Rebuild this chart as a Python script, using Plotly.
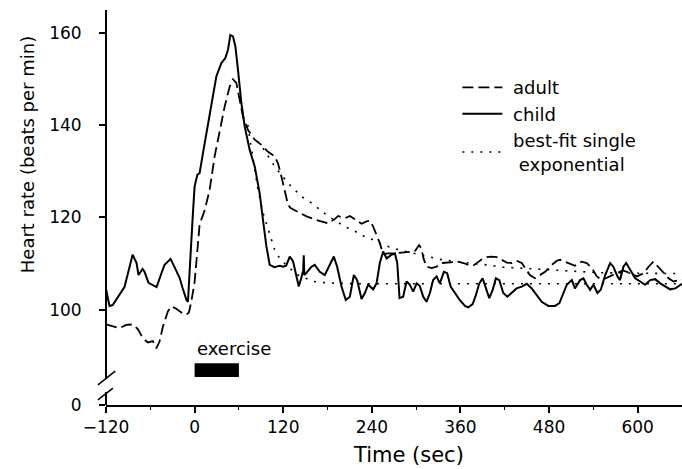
import plotly.graph_objects as go

# ---------------- data ----------------
time_adult = [-120, -108.5, -101.7, -92.6, -83.7, -76.9, -70.1, -63.3, -56.5, -51.9, -47.5, -43, -36.2,
              -31.6, -24.8, -18, -11.3, -7.7, -4.5, 0, 3, 6.8, 13.6, 20.3, 27.1, 33.9, 40.7, 47.5, 51.9,
              56.5, 61, 65.5, 72.3, 81.4, 90.4, 99.4, 108.5, 112.9, 117.6, 122, 126.5, 130, 137.9, 151.5,
              165, 180.7, 189.8, 194.3, 203.4, 210.2, 217, 226, 232.8, 237.3, 241.8, 246.4, 250.8, 255.3,
              262, 268.9, 278, 290, 298, 304, 307, 310, 314, 321, 327.7, 334.5, 341, 348, 357, 364, 370.6,
              377, 383, 389, 395.5, 402, 409, 416, 422.6, 429.4, 436, 443, 447.5, 454, 461, 467, 474.6,
              483.7, 490.4, 495, 501.7, 508.5, 515, 524, 531, 538, 544.7, 551.4, 560, 570, 580, 590, 599,
              608, 614.7, 621.4, 628, 635, 641.8, 648.5, 655, 660]
hr_adult = [96.8, 96.3, 96.0, 96.7, 96.8, 95.8, 93.8, 92.9, 93.2, 91.6, 93.1, 96.3, 99.6,
            100.7, 100.2, 99.4, 98.9, 99.4, 101.7, 106, 112, 118.5, 121.5, 125.9, 133.2, 138.9, 144.0, 148.3, 149.9,
            149.1, 145.4, 141.8, 138.9, 136.8, 135.7, 134.2, 133.2, 131.7, 128.8, 125.5, 122.7, 122.0, 121.4, 120.2,
            119.4, 118.7, 119.6, 120.3, 119.8, 120.3, 119.6, 118.6, 119.1, 119.3, 118.0, 116.2, 114.4, 112.0,
            112.2, 112.2, 112.3, 112.5, 112.6, 114.0, 113.3, 111.1, 109.3, 109.0, 109.3, 110.1, 110.2, 110.4, 110.4, 110.1, 109.7,
            109.5, 110.2, 110.9, 111.4, 111.5, 111.4, 110.8, 110.2, 110.1, 110.6, 110.1, 109.0, 107.5, 106.8, 107.5, 108.2,
            109.7, 110.6, 110.8, 110.4, 109.9, 109.5, 110.4, 110.1, 109.0, 107.2, 106.4, 107.0, 107.8, 108.5, 107.9, 107.2,
            107.9, 109.3, 110.4, 109.3, 107.9, 106.8, 106.1, 106.4, 106.5]

time_child = [-120, -115.3, -111, -102, -95, -88, -84, -78.6, -76, -70.5, -67.8, -62.4, -51.5, -44.7, -40.7,
              -32.5, -27, -20.3, -16.3, -11, -9, -8.1, -5.4, -2.3, 0, 3.7, 6.8, 11.3, 18, 24.8, 29.4, 36.2,
              41.6, 45.2, 48.4, 51.9, 55.2, 58.7, 63.3, 67.8, 74.6, 81.4, 88.1, 92.6, 97.2, 101.7, 108, 115,
              120, 124, 128.8, 133.3, 137.9, 141, 144.7, 147, 147.8, 148.5, 151.5, 158.2, 162.7, 169.5, 176.3,
              183, 188.5, 193, 198.9, 204.7, 210.2, 215.6, 220.1, 226, 230.5, 235, 241.8, 246.4, 250.8, 255.3,
              260, 266.7, 271.2, 274.4, 277.5, 282.4, 287, 291.5, 296, 300.6, 305, 309.6, 314, 318.6, 323,
              327.7, 332, 337.6, 342, 346.7, 352.5, 359, 366, 370.6, 376.5, 381, 385.5, 390, 394.6, 399,
              403.6, 408, 412.6, 418, 423.5, 429.4, 436, 443, 449.8, 456.5, 463, 470, 479, 488, 494, 498.6,
              504, 510.8, 515, 522, 526.5, 531, 535.6, 540, 545.5, 550, 556, 562.7, 567, 572.6, 576, 580.7,
              584.4, 590, 596.6, 603.4, 610, 617, 623.7, 630.5, 637, 644, 651, 657.6, 660]
hr_child = [104.5, 100.8, 101.0, 103.2, 104.9, 109.3, 111.9, 110.1, 107.5, 108.8, 108.2, 105.8, 104.9, 108.0, 109.7,
            111.0, 109.3, 106.9, 104.7, 102.1, 101.7, 105.0, 112.2, 120.9, 126.7, 129.2, 129.6, 133.9, 140.4, 146.9, 150.5, 153.4,
            154.5, 156.3, 159.5, 159.2, 157.0, 152.0, 144.8, 139.7, 134.6, 131.0, 125.2, 119.4, 113.7, 109.7, 109.2, 109.5,
            109.3, 109.5, 111.5, 110.5, 107.0, 105.0, 107.0, 108.5, 111.8, 107.5, 108.0, 109.3, 109.7, 108.2, 107.5,
            109.7, 111.5, 109.3, 105.0, 102.1, 102.8, 107.5, 106.4, 102.3, 103.6, 105.4, 104.4, 105.7, 110.1, 112.6,
            111.1, 111.9, 112.2, 110.1, 102.5, 102.8, 106.1, 105.4, 103.9, 105.7, 105.1, 102.8, 101.7, 103.6, 106.4,
            107.2, 105.7, 108.2, 107.9, 105.0, 103.6, 102.1, 100.8, 100.5, 101.2, 103.2, 105.7, 106.8, 104.6, 102.5,
            104.3, 106.8, 106.4, 103.6, 102.8, 103.7, 104.6, 105.0, 105.6, 104.6, 103.2, 101.7, 100.8, 100.8, 101.4, 103.2,
            105.4, 106.4, 104.6, 106.4, 106.8, 105.4, 104.3, 105.4, 103.6, 104.3, 107.5, 110.1, 109.3, 107.2, 106.4, 109.3,
            110.1, 108.6, 106.8, 106.1, 105.4, 106.4, 106.6, 105.7, 105.0, 104.4, 104.6, 105.4, 105.6]

time_fit_adult = [85, 92.6, 108.5, 126.5, 144.7, 160.4, 170.8, 180.7, 203.2, 215.9, 228, 241.8, 255.3, 266.7,
                  278, 332, 355, 395.5, 418, 440.7, 461, 492.6, 522, 549, 600, 660]
hr_fit_adult = [136.5, 135.0, 131.0, 127.4, 124.5, 122.9, 121.5, 120.3, 118.0, 117.1, 116.0, 115.1, 114.0, 113.5,
                112.9, 110.9, 110.4, 109.7, 109.2, 109.0, 108.8, 108.5, 108.2, 108.0, 107.9, 107.8]

time_fit_child = [72, 76.9, 85.8, 92.6, 99.4, 104, 108.5, 115.3, 125, 140, 160.4, 180, 220, 300, 400, 500, 600, 660]
hr_fit_child = [140.0, 135.0, 125.9, 121.0, 117.3, 115.1, 112.9, 111.1, 109.5, 107.5, 106.1, 105.8, 105.6, 105.6,
                105.6, 105.6, 105.6, 105.6]

x_ticks = [-120, 0, 120, 240, 360, 480, 600]
x_minor_ticks = [-60, 60, 180, 300, 420, 540]
y_ticks = [100, 120, 140, 160]
y_tick_labels = ["100", "120", "140", "160"]
y_zero_label = "0"
exercise_start, exercise_end = 0, 60

# ---------------- layout constants ----------------
W, H = 682, 469
L, R, T, B = 106, 0, 10, 64
X_RANGE = [-120, 660]
Y_RANGE = [79.35, 164.9]   # bottom of the broken axis is labelled 0
FONT = "DejaVu Sans"

fig = go.Figure()
fig.add_trace(go.Scatter(x=time_adult, y=hr_adult, mode="lines", name=" adult",
                         line=dict(color="black", width=1.8, dash="11px,5px")))
fig.add_trace(go.Scatter(x=time_child, y=hr_child, mode="lines", name=" child",
                         line=dict(color="black", width=2)))
fig.add_trace(go.Scatter(x=time_fit_adult, y=hr_fit_adult, mode="lines",
                         name=" best-fit single<br>  exponential", legendgroup="fit",
                         line=dict(color="black", width=1.6, dash="2px,7px")))
fig.add_trace(go.Scatter(x=time_fit_child, y=hr_fit_child, mode="lines",
                         name="best-fit single exponential", legendgroup="fit", showlegend=False,
                         line=dict(color="black", width=1.6, dash="2px,7px")))

yvals = [Y_RANGE[0]] + y_ticks
ytext = [y_zero_label] + y_tick_labels

fig.update_layout(
    width=W, height=H, margin=dict(l=L, r=R, t=T, b=B),
    paper_bgcolor="white", plot_bgcolor="white",
    font=dict(family=FONT, size=17, color="black"),
    xaxis=dict(range=X_RANGE, tickmode="array", tickvals=x_ticks, ticks="outside", ticklen=6,
               tickwidth=1.5, tickcolor="black", showline=True, linecolor="black", linewidth=1.5,
               showgrid=False, zeroline=False, ticklabelstandoff=0,
               minor=dict(tickmode="array", tickvals=x_minor_ticks, ticks="outside", ticklen=3,
                          tickwidth=1.2, tickcolor="black")),
    xaxis2=dict(range=X_RANGE, overlaying="x", anchor="y", side="bottom", tickmode="array",
                tickvals=x_ticks, ticks="inside", ticklen=6, tickwidth=1.5, tickcolor="black",
                showticklabels=False, showline=False, showgrid=False, zeroline=False,
                minor=dict(tickmode="array", tickvals=x_minor_ticks, ticks="inside", ticklen=3,
                           tickwidth=1.2, tickcolor="black")),
    yaxis=dict(range=Y_RANGE, tickmode="array", tickvals=yvals, ticktext=ytext, ticks="outside",
               ticklen=6, tickwidth=1.5, tickcolor="black", showline=False, showgrid=False,
               zeroline=False, ticklabelstandoff=14),
    yaxis2=dict(range=Y_RANGE, overlaying="y", anchor="x", side="left", tickmode="array",
                tickvals=y_ticks, ticks="inside", ticklen=6, tickwidth=1.5, tickcolor="black",
                showticklabels=False, showline=False, showgrid=False, zeroline=False),
    legend=dict(x=0.61, y=0.85, xanchor="left", yanchor="top", bgcolor="rgba(0,0,0,0)",
                font=dict(family=FONT, size=18), itemwidth=40, tracegroupgap=0),
    showlegend=True,
)

# broken y-axis line and break marks
gap_lo, gap_hi = 0.033, 0.068
shapes = [
    dict(type="line", xref="paper", yref="paper", x0=0, x1=0, y0=0, y1=gap_lo,
         line=dict(color="black", width=2)),
    dict(type="line", xref="paper", yref="paper", x0=0, x1=0, y0=gap_hi, y1=1,
         line=dict(color="black", width=2)),
    dict(type="line", xref="paper", yref="paper", x0=-0.014, x1=0.016, y0=0.051, y1=0.086,
         line=dict(color="black", width=1.6)),
    dict(type="line", xref="paper", yref="paper", x0=-0.014, x1=0.012, y0=0.013, y1=0.043,
         line=dict(color="black", width=1.6)),
    dict(type="rect", xref="x", yref="paper", x0=exercise_start, x1=exercise_end, y0=0.071, y1=0.106,
         fillcolor="black", line=dict(color="black", width=0)),
]
fig.update_layout(shapes=shapes)

fig.add_annotation(x=exercise_start, xref="x", y=0.144, yref="paper", text="exercise",
                   showarrow=False, xanchor="left", yanchor="middle", font=dict(size=18))
fig.add_annotation(x=0.526, xref="paper", y=-0.127, yref="paper", text="Time (sec)",
                   showarrow=False, xanchor="center", yanchor="middle", font=dict(size=21))
fig.add_annotation(x=-0.135, xref="paper", y=0.633, yref="paper", text="Heart rate (beats per min)",
                   showarrow=False, xanchor="center", yanchor="middle", textangle=-90, font=dict(size=18))

fig.write_html("out.html")
